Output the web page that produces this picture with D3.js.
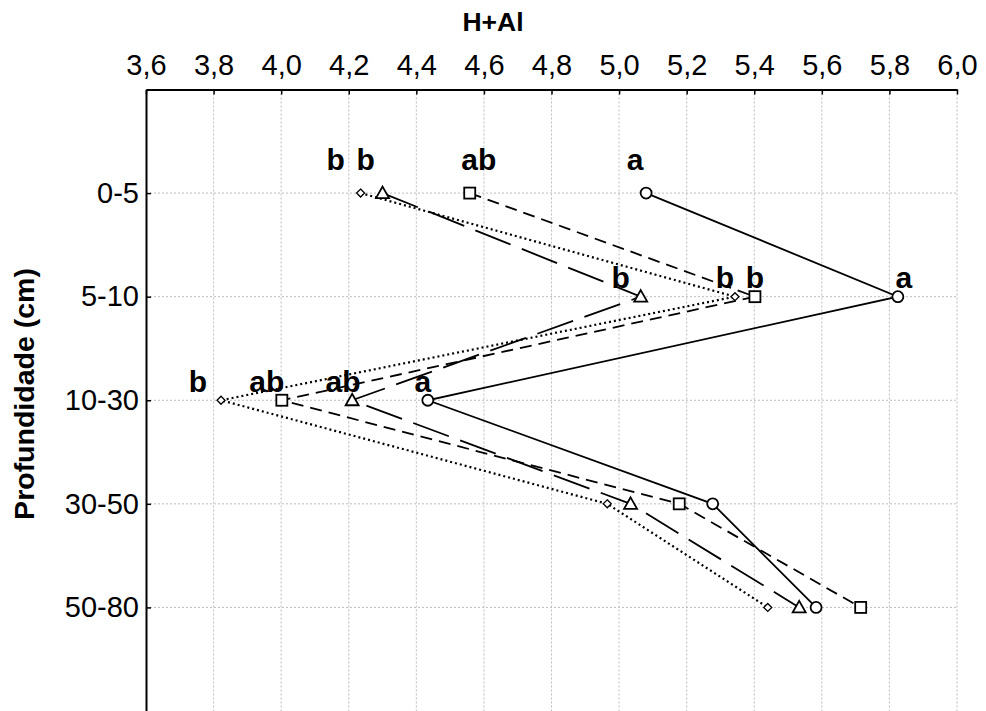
<!DOCTYPE html>
<html><head><meta charset="utf-8">
<script src="https://cdn.jsdelivr.net/npm/d3@7"></script>
<style>
body{margin:0;background:#fff;}
text{font-family:"Liberation Sans",Arial,sans-serif;}
</style></head>
<body><svg id="c" width="986" height="711"></svg>
<script>
// ---- data ----
const depths = ["0-5","5-10","10-30","30-50","50-80"];
const xTicks = [3.6,3.8,4.0,4.2,4.4,4.6,4.8,5.0,5.2,5.4,5.6,5.8,6.0];
const circleVals   = [5.08, 5.825, 4.434, 5.277, 5.583];
const squareVals   = [4.558, 5.402, 4.002, 5.178, 5.715];
const triangleVals = [4.30, 5.064, 4.21, 5.034, 5.533];
const diamondVals  = [4.235, 5.343, 3.822, 4.965, 5.44];
const circleLetters   = ["a","a","a","",""];
const squareLetters   = ["ab","b","ab","",""];
const triangleLetters = ["b","b","ab","",""];
const diamondLetters  = ["b","b","b","",""];
const xTitle = "H+Al";
const yTitle = "Profundidade (cm)";

// ---- layout ----
const letterDx = { circle:[-11,6,-5], square:[9,0,-15], triangle:[-17,-20,-9], diamond:[-25,-10,-23] };
const letterDy = [-23,-9,-8];

const svg = d3.select("#c");
const x = d3.scaleLinear().domain([3.6,6.0]).range([146,957]);
const y = d3.scalePoint().domain(depths).range([89.5,711]).padding(1);
const fmt = d => d.toFixed(1).replace(".", ",");

// grid
const g = svg.append("g");
g.selectAll(".vg").data(xTicks.slice(1)).join("line")
  .attr("x1",d=>x(d)).attr("x2",d=>x(d)).attr("y1",89.5).attr("y2",711)
  .attr("stroke","#bdbdbd").attr("stroke-width",1).attr("stroke-dasharray","2,2");
g.selectAll(".hg").data(depths).join("line")
  .attr("x1",146).attr("x2",957).attr("y1",d=>y(d)).attr("y2",d=>y(d))
  .attr("stroke","#bdbdbd").attr("stroke-width",1).attr("stroke-dasharray","2,2");

// axes
const xa = svg.append("g").attr("transform","translate(0,89.5)")
  .call(d3.axisTop(x).tickValues(xTicks).tickFormat(fmt).tickSize(-5).tickSizeOuter(0).tickPadding(15));
xa.select(".domain").attr("stroke-width",2);
xa.selectAll("text").attr("font-size",29).attr("fill","#000").attr("font-family","'Liberation Sans',Arial,sans-serif");
xa.selectAll(".tick line").attr("stroke-width",1.5);

const ya = svg.append("g").attr("transform","translate(146,0)")
  .call(d3.axisLeft(y).tickSize(-5).tickSizeOuter(0).tickPadding(7));
ya.select(".domain").attr("stroke-width",2);
ya.selectAll("text").attr("font-size",29).attr("fill","#000").attr("font-family","'Liberation Sans',Arial,sans-serif");
ya.selectAll(".tick line").attr("stroke-width",1.5);

// titles
svg.append("text").attr("x",493).attr("y",31).attr("text-anchor","middle")
  .attr("font-size",26.5).attr("font-weight","bold").text(xTitle);
svg.append("text").attr("transform","translate(34,394) rotate(-90)").attr("text-anchor","middle")
  .attr("font-size",28.5).attr("font-weight","bold").text(yTitle);

// series
const series = [
  {key:"circle", vals:circleVals, letters:circleLetters, dash:null, w:1.8},
  {key:"square", vals:squareVals, letters:squareLetters, dash:"12,7", w:1.8},
  {key:"triangle", vals:triangleVals, letters:triangleLetters, dash:"38,12", w:1.8},
  {key:"diamond", vals:diamondVals, letters:diamondLetters, dash:"2,3", w:2.2}
];
const line = d3.line().x(d=>x(d.v)).y(d=>y(d.c));
series.forEach(s=>{
  const pts = s.vals.map((v,i)=>({v, c:depths[i]}));
  svg.append("path").datum(pts).attr("d",line).attr("fill","none")
    .attr("stroke","#000").attr("stroke-width",s.w)
    .attr("stroke-dasharray",s.dash);
});
series.forEach(s=>{
  const pts = s.vals.map((v,i)=>({v, c:depths[i]}));
  const m = svg.append("g");
  pts.forEach(p=>{
    const cx=x(p.v), cy=y(p.c);
    if(s.key==="circle") m.append("circle").attr("cx",cx).attr("cy",cy).attr("r",5.5);
    else if(s.key==="square") m.append("rect").attr("x",cx-5.5).attr("y",cy-5.5).attr("width",11).attr("height",11);
    else if(s.key==="triangle") m.append("path").attr("d",`M${cx},${cy-6.5}L${cx+6.5},${cy+5}L${cx-6.5},${cy+5}Z`);
    else m.append("path").attr("d",`M${cx},${cy-4}L${cx+4},${cy}L${cx},${cy+4}L${cx-4},${cy}Z`);
  });
  m.selectAll("*").attr("fill","#fff").attr("stroke","#000").attr("stroke-width",s.key==="diamond"?1.3:1.8);
  s.letters.forEach((l,i)=>{
    if(!l) return;
    svg.append("text").attr("x",x(s.vals[i])+letterDx[s.key][i]).attr("y",y(depths[i])+letterDy[i])
      .attr("text-anchor","middle").attr("font-size",30).attr("font-weight","bold").text(l);
  });
});
</script></body></html>
